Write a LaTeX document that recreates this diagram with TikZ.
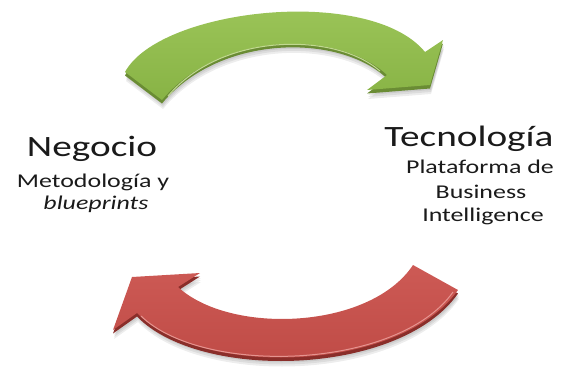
\documentclass[tikz,border=0pt]{standalone}
\usepackage{fontspec}
\setmainfont[FakeStretch=1.33]{Carlito}
\definecolor{gtop}{HTML}{9FC85C}
\definecolor{gbot}{HTML}{88B345}
\definecolor{gside}{HTML}{6A8C34}
\definecolor{ghi}{HTML}{D6EBA8}
\definecolor{rtop}{HTML}{CD5A55}
\definecolor{rbot}{HTML}{BD4944}
\definecolor{rside}{HTML}{8A2E2A}
\definecolor{rhi}{HTML}{EFA6A2}
\definecolor{txt}{HTML}{1A1A1A}
\begin{document}
\begin{tikzpicture}[x=1pt,y=-1pt]
\tikzset{
  bigtxt/.style={font=\fontsize{29.5}{32}\selectfont, anchor=base, text=txt, inner sep=0pt},
  smalltxt/.style={font=\fontsize{19.5}{22}\selectfont, anchor=base, text=txt, inner sep=0pt},
  shadowfill/.style={fill=black, opacity=0.07},
  gshape/.pic={\path[pic actions] (125,72) .. controls (160,8) and (370,-15) .. (425,52) -- (443,40) -- (430,85) -- (367,90) -- (387,75) .. controls (340,30) and (220,30) .. (162,100) -- cycle;},
  rshape/.pic={\path[pic actions] (413,265) .. controls (370,330) and (230,335) .. (178,287) -- (200,273) -- (132,277) -- (113,330) -- (137,313) .. controls (200,378) and (400,373) .. (458,290) -- cycle;},
}
\useasboundingbox (0,0) rectangle (568,367);
% green arrow
\foreach \s in {5,7,9}{
  \pic[shadowfill] at (1,\s) {gshape};
}
\pic[fill=gside] at (0,3.5) {gshape};
\pic[top color=gtop, bottom color=gbot] at (0,0) {gshape};
\draw[ghi, line width=1pt, opacity=0.8] (380,71) .. controls (335,32) and (222,32) .. (168,96);
% red arrow
\foreach \s in {5,7,9}{
  \pic[shadowfill] at (1,\s) {rshape};
}
\pic[fill=rside] at (0,3.5) {rshape};
\pic[top color=rtop, bottom color=rbot] at (0,0) {rshape};
\draw[rhi, line width=1pt, opacity=0.8] (141,316) .. controls (203,376) and (398,370) .. (453,292);
% texts
\node[bigtxt] (neg) at (92,156) {Negocio};
\node[smalltxt] (met) at (93,187) {Metodología y};
\node[smalltxt] (blue) at (96,209) {\itshape blueprints};
\node[bigtxt] (tec) at (469,146) {Tecnología};
\node[smalltxt] (pla) at (480,173) {Plataforma de};
\node[smalltxt] (bus) at (481,198) {Business};
\node[smalltxt] (int) at (483,221) {Intelligence};
\end{tikzpicture}
\end{document}
